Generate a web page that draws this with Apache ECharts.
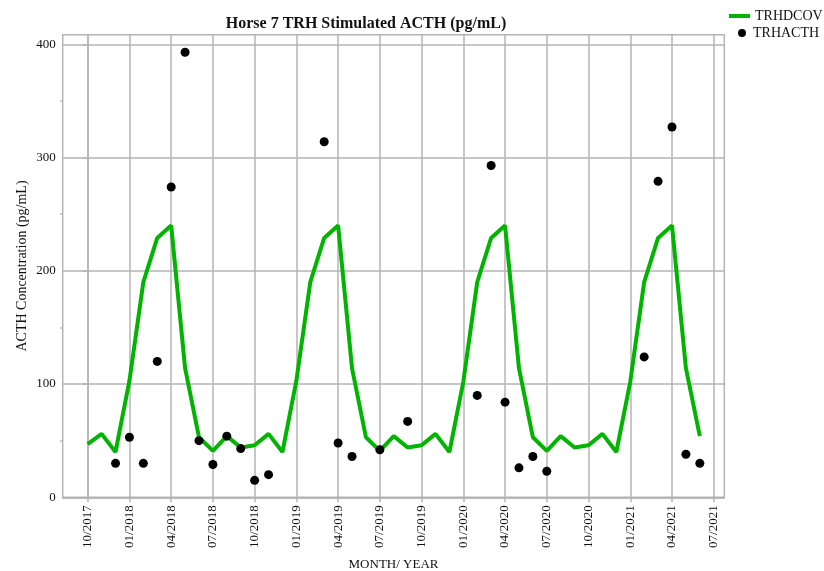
<!DOCTYPE html>
<html>
<head>
<meta charset="utf-8">
<script src="https://cdn.jsdelivr.net/npm/echarts@6/dist/echarts.min.js"></script>
<style>html,body{margin:0;padding:0;background:#fff}#c{width:824px;height:571px}</style>
</head>
<body>
<div id="c"></div>
<script>
const monthLabels = ['10/2017','11/2017','12/2017','01/2018','02/2018','03/2018','04/2018','05/2018','06/2018','07/2018','08/2018','09/2018',
  '10/2018','11/2018','12/2018','01/2019','02/2019','03/2019','04/2019','05/2019','06/2019','07/2019','08/2019','09/2019',
  '10/2019','11/2019','12/2019','01/2020','02/2020','03/2020','04/2020','05/2020','06/2020','07/2020','08/2020','09/2020',
  '10/2020','11/2020','12/2020','01/2021','02/2021','03/2021','04/2021','05/2021','06/2021','07/2021'];
const xTickLabels = ['10/2017','01/2018','04/2018','07/2018','10/2018','01/2019','04/2019','07/2019','10/2019','01/2020','04/2020','07/2020','10/2020','01/2021','04/2021','07/2021'];
const yTicks = [0, 100, 200, 300, 400];
const yMinorTicks = [50, 150, 250, 350];
const trhdcov = [47,56,40,103,190,229,240,114,53,41,54,44,
  46,56,40,103,190,229,240,114,53,41,54,44,
  46,56,40,102,190,229,240,114,53,41,54,44,
  46,56,40,102,190,229,240,114,54];
const trhacthMonths = ['12/2017','01/2018','02/2018','03/2018','04/2018','05/2018','06/2018','07/2018','08/2018','09/2018','10/2018','11/2018',
  '03/2019','04/2019','05/2019','07/2019','09/2019',
  '02/2020','03/2020','04/2020','05/2020','06/2020','07/2020',
  '02/2021','03/2021','04/2021','05/2021','06/2021'];
const trhacth = [30,53,30,120,274,393,50,29,54,43,15,20,
  314,48,36,42,67,
  90,293,84,26,36,23,
  124,279,327,38,30];

const F = 'Liberation Serif';
const GRID = '#b4b4b4';
const lineData = trhdcov.map((v, i) => [i, v]);
const scatterData = trhacthMonths.map((m, i) => [monthLabels.indexOf(m), trhacth[i]]);
const xTickValues = xTickLabels.map(l => monthLabels.indexOf(l));

const chart = echarts.init(document.getElementById('c'), null, {renderer: 'canvas'});
chart.setOption({
  animation: false,
  backgroundColor: '#fff',
  title: {
    text: 'Horse 7 TRH Stimulated ACTH (pg/mL)',
    left: 366, top: 16, padding: 0, textAlign: 'center',
    textStyle: {fontFamily: F, fontWeight: 'bold', fontSize: 16, color: '#111'}
  },
  legend: [{
    data: ['TRHDCOV'], left: 729, top: 9, padding: 0, orient: 'vertical',
    icon: 'rect', itemWidth: 21, itemHeight: 4,
    textStyle: {fontFamily: F, fontSize: 14, color: '#111'}
  }, {
    data: ['TRHACTH'], left: 738, top: 26, padding: 0, orient: 'vertical',
    icon: 'circle', itemWidth: 12, itemHeight: 8,
    textStyle: {fontFamily: F, fontSize: 14, color: '#111'}
  }],
  grid: {left: 62.7, right: 99.7, top: 34.7, bottom: 73.7, show: true, borderColor: GRID, borderWidth: 1.5,
    containLabel: false, outerBoundsMode: 'none'},
  xAxis: {
    type: 'value', min: -1.797, max: 45.76,
    name: 'MONTH/ YEAR', nameLocation: 'middle', nameGap: 61, nameMoveOverlap: false,
    nameTextStyle: {fontFamily: F, fontSize: 13, color: '#111'},
    axisLine: {show: true, lineStyle: {color: GRID, width: 1.5}},
    axisTick: {show: true, length: 5, customValues: xTickValues, lineStyle: {color: GRID, width: 1.5}},
    axisLabel: {customValues: xTickValues, rotate: 90, margin: 8, fontFamily: F, fontSize: 13, color: '#111',
      formatter: v => monthLabels[Math.round(v)] || ''},
    splitLine: {show: true, lineStyle: {color: GRID, width: 1.5}}
  },
  yAxis: [{
    type: 'value', min: 0, max: 408.5,
    name: 'ACTH Concentration (pg/mL)', nameLocation: 'middle', nameGap: 33, nameMoveOverlap: false,
    nameTextStyle: {fontFamily: F, fontSize: 14, color: '#111'},
    axisLine: {show: true, lineStyle: {color: GRID, width: 1.5}},
    axisTick: {show: true, length: 5, customValues: yTicks, lineStyle: {color: GRID, width: 1.5}},
    axisLabel: {customValues: yTicks, margin: 7, fontFamily: F, fontSize: 13, color: '#111'},
    splitLine: {show: true, lineStyle: {color: GRID, width: 1.5}}
  }, {
    type: 'value', min: 0, max: 408.5, position: 'left',
    axisLine: {show: false},
    axisTick: {show: true, length: 2.5, customValues: yMinorTicks, lineStyle: {color: GRID, width: 1.5}},
    axisLabel: {show: false},
    splitLine: {show: false}
  }],
  series: [{
    name: 'TRHDCOV', type: 'line', data: lineData, showSymbol: false, symbol: 'none',
    lineStyle: {color: '#00b400', width: 4}, itemStyle: {color: '#00b400'}, z: 2
  }, {
    name: 'TRHACTH', type: 'scatter', data: scatterData, symbol: 'circle', symbolSize: 9,
    itemStyle: {color: '#000', opacity: 1}, z: 3
  }]
});
</script>
</body>
</html>
